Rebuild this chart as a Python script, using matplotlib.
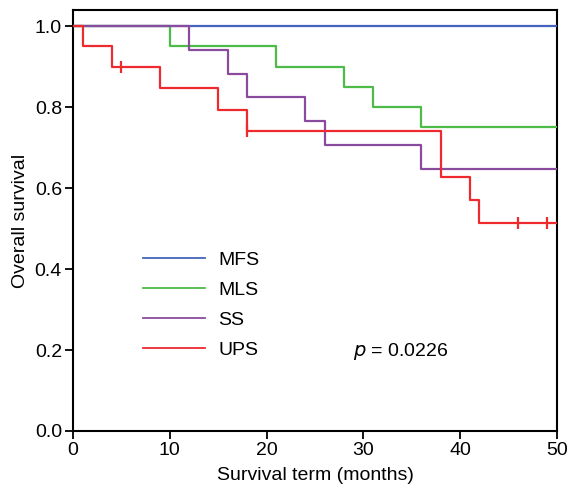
import matplotlib
matplotlib.use("Agg")
import matplotlib.pyplot as plt
from matplotlib.lines import Line2D

plt.rcParams['font.family'] = ['Liberation Sans', 'DejaVu Sans']

groups = ["MFS", "MLS", "SS", "UPS"]
colors = ["#4563BE", "#4CBB47", "#8A4B9E", "#EE2A2F"]

# step times and survival after each step
mfs_t = [0, 50]
mfs_s = [1.0, 1.0]
mls_t = [0, 10, 21, 28, 31, 36, 50]
mls_s = [1.0, 0.95, 0.90, 0.85, 0.80, 0.75, 0.75]
ss_t = [0, 12, 16, 18, 24, 26, 36, 50]
ss_s = [1.0, 0.941, 0.882, 0.824, 0.765, 0.706, 0.647, 0.647]
ups_t = [0, 1, 4, 9, 15, 18, 38, 41, 42, 50]
ups_s = [1.0, 0.95, 0.90, 0.847, 0.794, 0.741, 0.627, 0.570, 0.513, 0.513]
ups_cens_t = [5, 18, 46, 49]
ups_cens_s = [0.90, 0.741, 0.513, 0.513]

p_text = "0.0226"

fs = 14
fig = plt.figure(figsize=(5.68, 4.97), dpi=100)
ax = fig.add_axes([0.1285, 0.1328, 0.852, 0.847])

series = [(mfs_t, mfs_s), (mls_t, mls_s), (ss_t, ss_s), (ups_t, ups_s)]
for (t, s), c in zip(series, colors):
    ax.step(t, s, where='post', color=c, lw=1.6, zorder=3)
ax.plot(ups_cens_t, ups_cens_s, ls='none', marker='|', ms=9, mew=1.6,
        color=colors[3], zorder=4)

ax.set_xlim(0, 50)
ax.set_ylim(0, 1.04)
ax.set_xticks([0, 10, 20, 30, 40, 50])
ax.set_yticks([0.0, 0.2, 0.4, 0.6, 0.8, 1.0])
ax.set_yticklabels(["0.0", "0.2", "0.4", "0.6", "0.8", "1.0"])
ax.tick_params(direction='out', length=6, width=1.3, labelsize=fs, pad=2)
for sp in ax.spines.values():
    sp.set_linewidth(1.5)
ax.set_xlabel("Survival term (months)", fontsize=fs, labelpad=6)
ax.set_ylabel("Overall survival", fontsize=fs, labelpad=4)

handles = [Line2D([0], [0], color=c, lw=1.3) for c in colors]
leg = ax.legend(handles, groups, loc='upper left', bbox_to_anchor=(0.128, 0.445),
                frameon=False, fontsize=fs, handlelength=3.2, handletextpad=0.7,
                labelspacing=0.64, borderaxespad=0)
ax.text(0.578, 0.19, r"$\it{p}$ = " + p_text, transform=ax.transAxes,
        fontsize=fs, va='center', ha='left')

fig.savefig("out.png", dpi=100)
